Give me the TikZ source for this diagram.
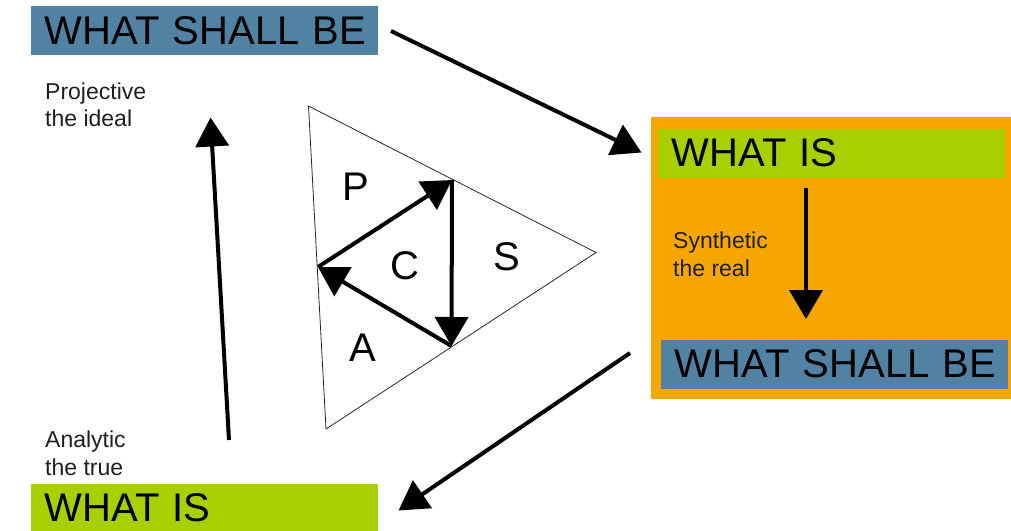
\documentclass[tikz,border=0pt]{standalone}
\usepackage{fontspec}
\setmainfont{Liberation Sans}
\usetikzlibrary{arrows.meta}

\definecolor{shallblue}{HTML}{5282A3}
\definecolor{isgreen}{HTML}{AACF00}
\definecolor{realorange}{HTML}{F7A600}

\begin{document}
\begin{tikzpicture}[x=1pt, y=-1pt,
  banner/.style={anchor=north west, inner xsep=13.5pt, inner ysep=0pt,
    text width=320pt, minimum height=49pt, align=left,
    font=\fontsize{40}{48}\selectfont},
  shallbox/.style={banner, fill=shallblue},
  isbox/.style={banner, fill=isgreen},
  caption/.style={anchor=base west, align=left, inner sep=0pt,
    text=black!88, font=\fontsize{23}{27.5}\selectfont},
  letter/.style={inner sep=0pt, font=\fontsize{40}{48}\selectfont},
  bigarrow/.style={line width=4pt, -{Triangle[length=29pt,width=33pt]}},
  edge/.style={line width=0.8pt, black!85, line join=miter}
]
\useasboundingbox (0,0) rectangle (1011,530);

% orange panel on the right
\node[anchor=north west, fill=realorange, minimum width=365pt,
      minimum height=282pt, inner sep=0pt] (panel) at (651,117) {};

% headline boxes (text kept on one line)
\node[shallbox] (shallTop) at (31,6) {\mbox{WHAT SHALL BE}};
\node[isbox] (isRight) at (658,128.5) {\mbox{WHAT IS}};
\node[shallbox] (shallRight) at (661,339.5) {\mbox{WHAT SHALL BE}};
\node[isbox] (isBottom) at (31,483.5) {\mbox{WHAT IS}};

% side captions (placed by the baseline of their second line)
\node[caption] (proj) at (45,126.5) {Projective\\the ideal};
\node[caption] (synth) at (673,276) {Synthetic\\the real};
\node[caption] (anal) at (45,475) {Analytic\\the true};

% outer triangle and the inner cycle
\coordinate (vTop) at (308.5,106);
\coordinate (vRight) at (596,252.5);
\coordinate (vBottom) at (326,429);
\coordinate (mTop) at (452,180);
\coordinate (mLeft) at (318,267);
\coordinate (mBottom) at (451.5,346);
\draw[edge] (vTop) -- (vRight) -- (vBottom) -- cycle;

\draw[bigarrow] (mLeft) -- (mTop);
\draw[bigarrow] (mTop) -- (mBottom);
\draw[bigarrow] (mBottom) -- (mLeft);

\node[letter] (lP) at (355.5,186.5) {P};
\node[letter] (lC) at (405,266) {C};
\node[letter] (lS) at (507,257) {S};
\node[letter] (lA) at (363,348) {A};

% arrows around the cycle
\coordinate (a1s) at (391,31);
\coordinate (a1e) at (641.5,152.5);
\coordinate (a2s) at (806,187.5);
\coordinate (a2e) at (806,319);
\coordinate (a3s) at (630,353);
\coordinate (a3e) at (398.5,510.5);
\coordinate (a4s) at (229,440);
\coordinate (a4e) at (210.5,117.5);
\draw[bigarrow] (a1s) -- (a1e);
\draw[bigarrow] (a2s) -- (a2e);
\draw[bigarrow] (a3s) -- (a3e);
\draw[bigarrow] (a4s) -- (a4e);
\end{tikzpicture}
\end{document}
